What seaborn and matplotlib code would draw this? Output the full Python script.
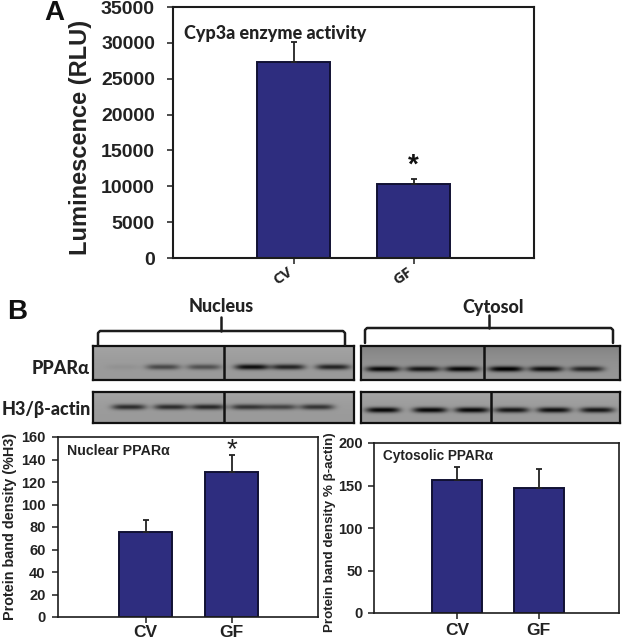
import numpy as np
import pandas as pd
import seaborn as sns
import matplotlib
matplotlib.use("Agg")
import matplotlib.pyplot as plt
from matplotlib.transforms import ScaledTranslation

W, H = 622, 639
BAR_COLOR = "#2E2D7F"
DARK = "#1c1c1c"

# bar values
groups = ["CV", "GF"]
cyp3a_mean = [27400, 10300]
cyp3a_err = [2700, 700]
nuclear_mean = [76, 129]
nuclear_err = [10.5, 15]
cyto_mean = [157, 147]
cyto_err = [14.5, 23]

# blot lanes: band strength per lane (0-1)
nuc_ppar_bands = [0.06, 0.55, 0.50, 0.95, 0.80, 0.80]
cyt_ppar_bands = [0.95, 0.85, 0.95, 1.00, 0.90, 0.75]
nuc_h3_bands = [0.75, 0.75, 0.78, 0.70, 0.60, 0.70]
cyt_h3_bands = [1.00, 1.00, 1.00, 0.90, 0.95, 0.90]

nuc_ppar_lanes = [123, 163, 204, 252, 288, 333]
cyt_ppar_lanes = [383, 423, 462, 506, 546, 587]
nuc_h3_lanes = [129, 171, 208, 248, 280, 317]
cyt_h3_lanes = [383, 430, 472, 512, 554, 597]

sns.set_theme(style="white")
plt.rcParams["font.family"] = ["Liberation Sans", "DejaVu Sans"]

fig = plt.figure(figsize=(W / 100, H / 100), dpi=100, facecolor="white")


def px_axes(x0, y0, x1, y1):
    return fig.add_axes([x0 / W, 1 - y1 / H, (x1 - x0) / W, (y1 - y0) / H])


def bar_panel(box, means, errs, ymax, yticks, xlim, width, tick_fs, pad, lw=1.5):
    ax = px_axes(*box)
    df = pd.DataFrame({"group": groups, "value": means})
    sns.barplot(data=df, x="group", y="value", color=BAR_COLOR, saturation=1,
                width=width, edgecolor="#111133", linewidth=1.4, ax=ax)
    ax.errorbar([0, 1], means, yerr=[[0, 0], errs], fmt="none", ecolor="#222222",
                elinewidth=1.3, capsize=2.2, capthick=1.3)
    ax.set_xlim(*xlim)
    ax.set_ylim(0, ymax)
    ax.set_yticks(yticks)
    ax.set_xlabel("")
    ax.set_ylabel("")
    for s in ax.spines.values():
        s.set_color(DARK)
        s.set_linewidth(lw)
        s.set_visible(True)
    ax.tick_params(axis="both", bottom=True, left=True, length=4, width=1.1,
                   color=DARK, labelcolor="#222222")
    for t in ax.get_yticklabels():
        t.set_fontsize(tick_fs)
        t.set_fontweight("bold")
    ax.tick_params(axis="y", pad=pad)
    return ax


def blot_panel(box, lanes, strengths, band_y, divider, smear=0.0, band_h=2.8, band_w=17):
    # gel background and bands go into a cell grid drawn by heatmap
    x0, y0, x1, y1 = box
    xs = np.arange(x0, x1) + 0.5
    ys = np.arange(y0, y1) + 0.5
    grid = np.full((len(ys), len(xs)), 0.60)
    grid += 0.05 * np.exp(-((ys - y0) / 10.0))[:, None]
    grid -= smear * np.exp(-((ys - y0) / 14.0))[:, None]
    for lane, s in zip(lanes, strengths):
        across = np.exp(-np.abs((xs - lane) / band_w) ** 4)
        down = np.exp(-((ys - band_y) / band_h) ** 2)
        grid -= 0.58 * s * np.outer(down, across)
    ax = px_axes(*box)
    sns.heatmap(np.clip(grid, 0, 1), cmap="gray", vmin=0, vmax=1, cbar=False, xticklabels=False,
                yticklabels=False, ax=ax, rasterized=True)
    ax.axvline(divider - x0, color="#111111", lw=1.8)
    for s in ax.spines.values():
        s.set_visible(True)
        s.set_color("#111111")
        s.set_linewidth(1.6)


# panel A
ax_a = bar_panel((173, 7, 534, 258), cyp3a_mean, cyp3a_err, 35000,
                 [0, 5000, 10000, 15000, 20000, 25000, 30000, 35000],
                 ((173 - 293.5) / 120, (534 - 293.5) / 120), 73 / 120, 14, 9)
ax_a.set_xticks([0, 1], groups)
ax_a.tick_params(axis="x", pad=1)
shift_left = ScaledTranslation(-7 / 100, 0, fig.dpi_scale_trans)
for t in ax_a.get_xticklabels():
    t.set_rotation(35)
    t.set_rotation_mode("anchor")
    t.set_ha("right")
    t.set_fontsize(11)
    t.set_fontweight("bold")
    t.set_family(["Open Sans", "DejaVu Sans"])
    t.set_transform(t.get_transform() + shift_left)

# panel B charts
ax_n = bar_panel((58, 437, 318, 617), nuclear_mean, nuclear_err, 160,
                 [0, 20, 40, 60, 80, 100, 120, 140, 160],
                 ((58 - 145.5) / 86, (318 - 145.5) / 86), 53 / 86, 10.5, 5, lw=1.2)
ax_c = bar_panel((374, 443, 619, 613), cyto_mean, cyto_err, 200,
                 [0, 50, 100, 150, 200],
                 ((374 - 457) / 81.5, (619 - 457) / 81.5), 50 / 81.5, 10.5, 4, lw=1.2)
for ax, xpad in ((ax_n, 1.5), (ax_c, 3.5)):
    ax.set_xticks([0, 1], groups)
    for t in ax.get_xticklabels():
        t.set_fontsize(12.5)
        t.set_fontweight("bold")
    ax.tick_params(axis="x", pad=xpad)

# blots
blot_panel((93, 346, 354, 380), nuc_ppar_lanes, nuc_ppar_bands, 367, 224)
blot_panel((361, 346, 620, 380), cyt_ppar_lanes, cyt_ppar_bands, 369, 484, smear=0.14)
blot_panel((93, 392, 354, 423), nuc_h3_lanes, nuc_h3_bands, 407, 224)
blot_panel((361, 392, 620, 423), cyt_h3_lanes, cyt_h3_bands, 410, 491)

# full-figure overlay in pixel coordinates for labels and brackets
ov = fig.add_axes([0, 0, 1, 1], facecolor="none", zorder=10)
ov.set_xlim(0, W)
ov.set_ylim(H, 0)
ov.axis("off")

CAL = ["Lato", "DejaVu Sans"]
ov.text(54, 13, "A", fontsize=20, fontweight="bold", ha="center", va="center", color="#111111")
ov.text(17, 312, "B", fontsize=20, fontweight="bold", ha="center", va="center", color="#111111")
ov.text(80, 137, "Luminescence (RLU)", fontsize=17, fontweight="bold", rotation=90,
        ha="center", va="center", color="#222222")
ov.text(184, 33, "Cyp3a enzyme activity", fontsize=13, fontweight=900, family=CAL,
        ha="left", va="center", color="#222222")
ov.text(413, 166, "*", fontsize=20, fontweight="bold", ha="center", va="center", color="#111111")
ov.text(232, 450, "*", fontsize=20, ha="center", va="center", color="#222222")
ov.text(67, 451, "Nuclear PPARα", fontsize=10.2, fontweight="bold", ha="left", va="center", color="#222222")
ov.text(383, 456, "Cytosolic PPARα", fontsize=9.8, fontweight="bold", ha="left", va="center", color="#222222")
ov.text(10, 526, "Protein band density (%H3)", fontsize=10.4, fontweight="bold", rotation=90,
        ha="center", va="center", color="#222222")
ov.text(330, 532, "Protein band density % β-actin)", fontsize=9.6, fontweight="bold", rotation=90,
        ha="center", va="center", color="#222222")

ov.text(221, 307, "Nucleus", fontsize=13, fontweight=900, family=CAL, ha="center", va="center", color="#222222")
ov.text(493, 307, "Cytosol", fontsize=13, fontweight=900, family=CAL, ha="center", va="center", color="#222222")
ov.text(90, 368, "PPARα", fontsize=13, fontweight=900, family=CAL, ha="right", va="center", color="#222222")
ov.text(91, 409, "H3/β-actin", fontsize=13, fontweight=900, family=CAL, ha="right", va="center", color="#222222")


def bracket(x0, x1, apex_x, y_bar, y_foot, y_apex):
    ov.plot([x0, x0, x0 + 2, x1 - 2, x1, x1], [y_foot, y_bar + 2, y_bar, y_bar, y_bar + 2, y_foot],
            color=DARK, lw=1.8, solid_joinstyle="round")
    ov.plot([apex_x, apex_x], [y_bar, y_apex], color=DARK, lw=1.8)


bracket(98, 345, 221, 331, 345, 317)
bracket(365, 613, 489, 328, 343, 315)

fig.savefig("out.png", dpi=100)
